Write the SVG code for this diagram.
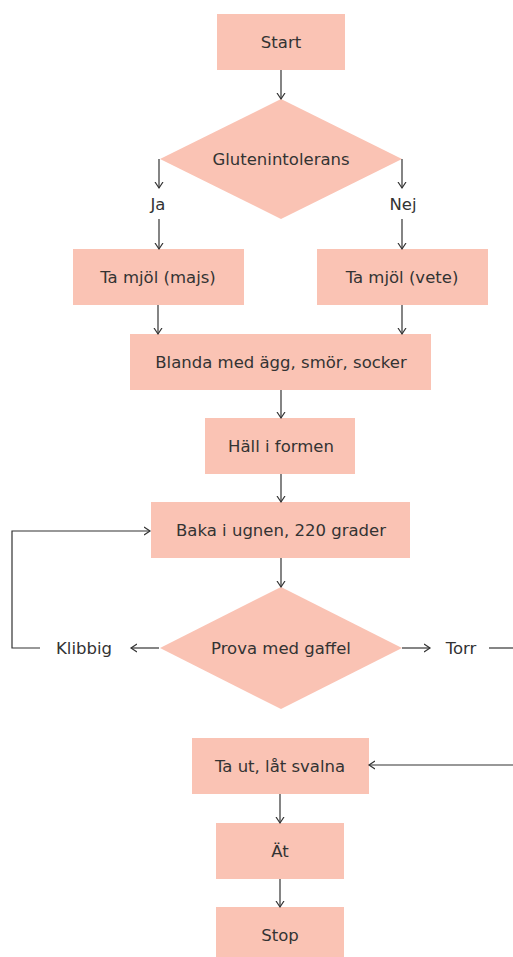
<svg xmlns="http://www.w3.org/2000/svg" width="513" height="957" viewBox="0 0 513 957">
<style>
.n{fill:#FAC3B4}
.t{font-family:"DejaVu Sans","Liberation Sans",sans-serif;font-size:16.5px;fill:#333;text-anchor:middle}
.c{stroke:#333;stroke-width:1.2;fill:none}
</style>
<defs>
<marker id="a" markerUnits="userSpaceOnUse" markerWidth="10" markerHeight="12" refX="6" refY="5" orient="auto">
<path d="M0,1 L6,5 L0,9" fill="none" stroke="#333" stroke-width="1.2"/>
</marker>
</defs>
<g id="start"><rect class="n" x="217" y="14" width="128" height="56"/><text class="t" x="281" y="48">Start</text></g>
<g id="gluten"><polygon class="n" points="281,99 402,159 281,219 160,159"/><text class="t" x="281" y="165">Glutenintolerans</text></g>
<g id="ja"><text class="t" x="158" y="210">Ja</text></g>
<g id="nej"><text class="t" x="403" y="210">Nej</text></g>
<g id="majs"><rect class="n" x="73" y="249" width="171" height="56"/><text class="t" x="158" y="283">Ta mjöl (majs)</text></g>
<g id="vete"><rect class="n" x="317" y="249" width="171" height="56"/><text class="t" x="402" y="283">Ta mjöl (vete)</text></g>
<g id="blanda"><rect class="n" x="130" y="334" width="301" height="56"/><text class="t" x="281" y="368">Blanda med ägg, smör, socker</text></g>
<g id="hall"><rect class="n" x="205" y="418" width="150" height="56"/><text class="t" x="281" y="452">Häll i formen</text></g>
<g id="baka"><rect class="n" x="151" y="502" width="259" height="56"/><text class="t" x="281" y="536">Baka i ugnen, 220 grader</text></g>
<g id="prova"><polygon class="n" points="281,587 402,648 281,709 160,648"/><text class="t" x="281" y="654">Prova med gaffel</text></g>
<g id="klibbig"><text class="t" x="84" y="654">Klibbig</text></g>
<g id="torr"><text class="t" x="461" y="654">Torr</text></g>
<g id="taut"><rect class="n" x="192" y="738" width="177" height="56"/><text class="t" x="280" y="772">Ta ut, låt svalna</text></g>
<g id="at"><rect class="n" x="216" y="823" width="128" height="56"/><text class="t" x="280" y="857">Ät</text></g>
<g id="stop"><rect class="n" x="216" y="907" width="128" height="50"/><text class="t" x="280" y="941">Stop</text></g>
<g id="connectors">
<path class="c" d="M281,70 V99" marker-end="url(#a)"/>
<path class="c" d="M159,159 V188" marker-end="url(#a)"/>
<path class="c" d="M159,219 V249" marker-end="url(#a)"/>
<path class="c" d="M402,159 V188" marker-end="url(#a)"/>
<path class="c" d="M402,219 V249" marker-end="url(#a)"/>
<path class="c" d="M158,305 V334" marker-end="url(#a)"/>
<path class="c" d="M402,305 V334" marker-end="url(#a)"/>
<path class="c" d="M281,390 V418" marker-end="url(#a)"/>
<path class="c" d="M281,474 V502" marker-end="url(#a)"/>
<path class="c" d="M281,558 V587" marker-end="url(#a)"/>
<path class="c" d="M159,648 H131" marker-end="url(#a)"/>
<path class="c" d="M40,648 H12 V531 H150" marker-end="url(#a)"/>
<path class="c" d="M402,648 H430" marker-end="url(#a)"/>
<path class="c" d="M489,648 H513"/>
<path class="c" d="M513,765 H369" marker-end="url(#a)"/>
<path class="c" d="M280,794 V823" marker-end="url(#a)"/>
<path class="c" d="M280,879 V907" marker-end="url(#a)"/>
</g>
</svg>
